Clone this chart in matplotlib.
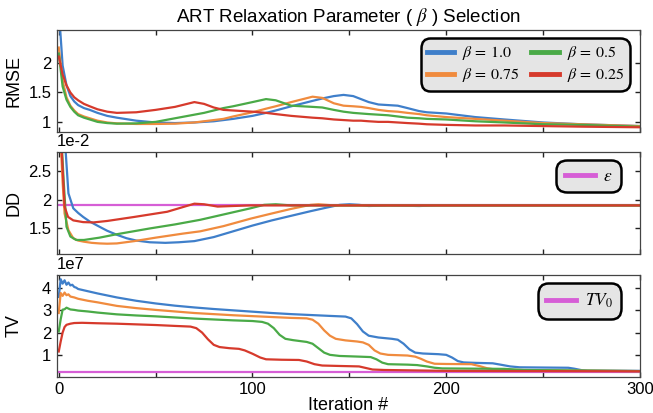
import numpy as np
import matplotlib
matplotlib.use('Agg')
import matplotlib.pyplot as plt
from matplotlib.ticker import FixedLocator, FuncFormatter

plt.rcParams['font.family'] = ['Liberation Sans', 'DejaVu Sans']
plt.rcParams['mathtext.fontset'] = 'stix'

#---------------------------------------- data ----------------------------------------
betas = ['1.0', '0.75', '0.5', '0.25']
colors = ['#3f7fca', '#f08b3e', '#4aaa47', '#d63a2c']
limit_color = '#d65ed6'

# RMSE, shared iteration grid
rmse_iter = [0, 2, 4, 6, 8, 10, 13, 16, 20, 25, 30, 40, 50, 60, 70, 75, 80, 85, 90, 100, 107, 112, 120,
             131, 136, 142, 147, 152, 156, 160, 165, 170, 175, 180, 186, 190, 200, 215, 230, 250, 270, 300]
rmse_b100 = [2.9, 1.95, 1.62, 1.44, 1.35, 1.29, 1.24, 1.21, 1.16, 1.11, 1.08, 1.03, 1.00, 0.99, 1.00, 1.01,
             1.02, 1.04, 1.06, 1.11, 1.16, 1.20, 1.27, 1.36, 1.40, 1.44, 1.46, 1.44, 1.39, 1.34, 1.30, 1.29,
             1.28, 1.24, 1.19, 1.17, 1.15, 1.09, 1.05, 1.00, 0.97, 0.94]
rmse_b075 = [2.25, 1.70, 1.42, 1.28, 1.20, 1.14, 1.10, 1.07, 1.03, 1.00, 0.985, 0.975, 0.975, 0.98, 1.00, 1.02,
             1.04, 1.06, 1.10, 1.17, 1.23, 1.27, 1.34, 1.43, 1.41, 1.32, 1.28, 1.27, 1.26, 1.24, 1.21, 1.19,
             1.18, 1.16, 1.14, 1.12, 1.09, 1.06, 1.03, 0.99, 0.97, 0.94]
rmse_b050 = [2.15, 1.60, 1.38, 1.26, 1.18, 1.12, 1.08, 1.05, 1.01, 0.99, 0.98, 0.985, 1.01, 1.07, 1.13, 1.16,
             1.20, 1.24, 1.27, 1.34, 1.39, 1.37, 1.28, 1.26, 1.25, 1.21, 1.18, 1.16, 1.15, 1.14, 1.13, 1.12,
             1.10, 1.08, 1.07, 1.06, 1.05, 1.02, 1.00, 0.97, 0.96, 0.93]
rmse_b025 = [2.10, 1.80, 1.62, 1.50, 1.42, 1.37, 1.31, 1.27, 1.22, 1.18, 1.16, 1.17, 1.21, 1.26, 1.34, 1.31,
             1.25, 1.21, 1.20, 1.18, 1.16, 1.14, 1.11, 1.08, 1.07, 1.05, 1.04, 1.03, 1.03, 1.02, 1.01, 1.01,
             1.00, 0.99, 0.98, 0.97, 0.96, 0.95, 0.95, 0.94, 0.93, 0.92]

# DD (x 1e-2)
dd_iter_b100 = [0, 2, 3.5, 5, 7.5, 10, 12.6, 16, 21, 25, 30, 35, 40, 47, 55, 62, 70, 80, 90, 100, 110, 120,
                130, 138, 145, 150, 155, 160, 170, 186, 195, 300]
dd_b100 = [4.5, 3.5, 2.87, 2.11, 1.85, 1.77, 1.70, 1.62, 1.53, 1.46, 1.39, 1.33, 1.29, 1.26, 1.25, 1.26, 1.28,
           1.35, 1.45, 1.55, 1.64, 1.72, 1.80, 1.86, 1.91, 1.92, 1.91, 1.89, 1.90, 1.89, 1.90, 1.90]
dd_iter_b075 = [0, 1, 2, 3, 5, 7.5, 10, 13, 17, 21, 25, 30, 39, 50, 64, 73, 85, 99, 110, 120, 130, 134, 142, 300]
dd_b075 = [3.5, 3.0, 2.3, 1.76, 1.47, 1.33, 1.29, 1.27, 1.25, 1.24, 1.235, 1.24, 1.28, 1.34, 1.41, 1.45, 1.54,
           1.67, 1.76, 1.84, 1.91, 1.92, 1.90, 1.90]
dd_iter_b050 = [0, 1.5, 2.5, 4, 6, 9, 13, 21, 30, 47, 60, 73, 86, 99, 106, 112, 120, 300]
dd_b050 = [3.5, 3.0, 2.35, 1.53, 1.36, 1.30, 1.30, 1.34, 1.40, 1.50, 1.57, 1.65, 1.75, 1.85, 1.91, 1.92, 1.90, 1.90]
dd_iter_b025 = [0, 1.5, 3, 4.8, 7.5, 12.6, 18, 25, 39, 56, 65, 70, 75, 82, 90, 99, 300]
dd_b025 = [3.5, 2.87, 1.88, 1.70, 1.64, 1.61, 1.605, 1.63, 1.70, 1.79, 1.88, 1.93, 1.92, 1.88, 1.89, 1.90, 1.90]
epsilon = 1.90

# TV (x 1e7)
tv_iter_b100 = [0, 1, 2, 3, 4, 5, 6, 7, 8, 9, 10, 15, 20, 30, 40, 50, 60, 70, 80, 90, 100, 110, 120, 130, 140,
                148, 151, 154, 157, 160, 165, 172, 175, 178, 181, 184, 188, 196, 200, 203, 206, 209, 215, 224,
                228, 233, 238, 250, 263, 266, 270, 273, 300]
tv_b100 = [3.6, 4.4, 4.2, 4.35, 4.15, 4.25, 4.12, 4.15, 4.05, 4.02, 3.96, 3.86, 3.76, 3.58, 3.43, 3.31, 3.21,
           3.13, 3.06, 3.00, 2.94, 2.88, 2.83, 2.79, 2.75, 2.72, 2.64, 2.38, 2.05, 1.86, 1.78, 1.72, 1.68, 1.50,
           1.25, 1.10, 1.06, 1.03, 1.00, 0.88, 0.72, 0.66, 0.64, 0.62, 0.56, 0.48, 0.44, 0.43, 0.42, 0.38, 0.31,
           0.29, 0.28]
tv_iter_b075 = [0, 1, 2, 3, 4, 5, 6, 8, 10, 15, 20, 30, 40, 50, 60, 70, 80, 90, 100, 110, 120, 128, 131, 134,
                137, 140, 143, 148, 154, 157, 160, 163, 166, 170, 180, 184, 187, 190, 194, 200, 213, 217, 221,
                224, 235, 260, 300]
tv_b075 = [2.88, 3.78, 3.65, 3.80, 3.68, 3.72, 3.62, 3.58, 3.52, 3.43, 3.36, 3.20, 3.10, 3.02, 2.95, 2.88, 2.83,
           2.78, 2.74, 2.70, 2.66, 2.64, 2.58, 2.40, 2.10, 1.86, 1.72, 1.65, 1.60, 1.56, 1.45, 1.20, 1.06, 1.00,
           0.97, 0.92, 0.82, 0.70, 0.60, 0.59, 0.58, 0.50, 0.40, 0.36, 0.32, 0.30, 0.27]
tv_iter_b050 = [0, 1, 2, 3, 4, 5, 6, 8, 10, 15, 20, 30, 40, 50, 60, 70, 80, 90, 100, 105, 108, 111, 114, 117,
                121, 128, 131, 134, 137, 140, 145, 155, 161, 164, 167, 170, 180, 185, 190, 194, 198, 230, 240, 300]
tv_b050 = [2.05, 2.6, 3.03, 3.05, 3.12, 3.08, 3.04, 3.02, 2.99, 2.95, 2.90, 2.82, 2.77, 2.73, 2.68, 2.63, 2.59,
           2.55, 2.52, 2.48, 2.40, 2.20, 1.90, 1.72, 1.66, 1.58, 1.50, 1.30, 1.10, 1.00, 0.95, 0.92, 0.90, 0.80,
           0.65, 0.58, 0.56, 0.54, 0.48, 0.42, 0.39, 0.37, 0.32, 0.27]
tv_iter_b025 = [0, 1, 2, 3, 4, 6, 8, 12, 20, 30, 40, 50, 60, 68, 71, 74, 77, 80, 83, 88, 93, 96, 100, 104, 107,
                115, 124, 128, 132, 136, 145, 155, 158, 162, 168, 200, 300]
tv_b025 = [1.15, 1.6, 2.0, 2.25, 2.35, 2.40, 2.43, 2.44, 2.42, 2.40, 2.37, 2.34, 2.30, 2.27, 2.20, 2.00, 1.70,
           1.45, 1.35, 1.30, 1.27, 1.20, 1.05, 0.88, 0.80, 0.78, 0.77, 0.70, 0.58, 0.52, 0.50, 0.48, 0.42, 0.34,
           0.32, 0.28, 0.26]
tv0 = 0.25

#---------------------------------------- plotting ----------------------------------------
fig, axes = plt.subplots(3, 1, figsize=(6.53, 4.13), dpi=100, sharex=True)
fig.subplots_adjust(left=0.087, right=0.98, top=0.927, bottom=0.088, hspace=0.2)
ax_rmse, ax_dd, ax_tv = axes

rmse_series = [rmse_b100, rmse_b075, rmse_b050, rmse_b025]
dd_series = [(dd_iter_b100, dd_b100), (dd_iter_b075, dd_b075), (dd_iter_b050, dd_b050), (dd_iter_b025, dd_b025)]
tv_series = [(tv_iter_b100, tv_b100), (tv_iter_b075, tv_b075), (tv_iter_b050, tv_b050), (tv_iter_b025, tv_b025)]

lw = 1.6
rmse_lines = []
for vals, c, b in zip(rmse_series, colors, betas):
    ln, = ax_rmse.plot(rmse_iter, vals, color=c, lw=lw, label=r'$\beta\,=\,%s$' % b)
    rmse_lines.append(ln)

eps_line = ax_dd.axhline(epsilon * 1e-2, color=limit_color, lw=lw, label=r'$\epsilon$')
for (it, vals), c in zip(dd_series, colors):
    ax_dd.plot(it, np.array(vals) * 1e-2, color=c, lw=lw)

tv0_line = ax_tv.axhline(tv0 * 1e7, color=limit_color, lw=lw, label=r'$TV_0$')
for (it, vals), c in zip(tv_series, colors):
    ax_tv.plot(it, np.array(vals) * 1e7, color=c, lw=lw)


def style_axis(ax, label, ylim, yticks, scale, offset_text=None):
    ax.set_xlim(-1, 300)
    ax.set_ylim(ylim[0] * scale, ylim[1] * scale)
    ax.yaxis.set_major_locator(FixedLocator([t * scale for t in yticks]))
    ax.yaxis.set_major_formatter(FuncFormatter(lambda v, p: '%g' % round(v / scale, 3)))
    ax.set_xticks(np.arange(0, 301, 50))
    ax.set_xticklabels(['0', '', '100', '', '200', '', '300'])
    ax.tick_params(direction='in', top=True, right=True, length=3.5, width=1,
                   labelsize=12, pad=4, color='#222222')
    for s in ax.spines.values():
        s.set_linewidth(0.9)
        s.set_color('#444444')
    ax.set_ylabel(label, fontsize=13)
    ax.yaxis.set_label_coords(-0.058, 0.5)
    if offset_text:
        ax.text(0, 1.03, offset_text, transform=ax.transAxes, ha='left', va='bottom', fontsize=12)


style_axis(ax_rmse, 'RMSE', (0.84, 2.54), [1, 1.5, 2], 1)
style_axis(ax_dd, 'DD', (1.05, 2.82), [1.5, 2, 2.5], 1e-2, '1e-2')
style_axis(ax_tv, 'TV', (0.02, 4.6), [1, 2, 3, 4], 1e7, '1e7')

ax_rmse.set_title(r'ART Relaxation Parameter ( $\beta$ ) Selection', fontsize=13.5, pad=6)
ax_tv.set_xlabel('Iteration #', fontsize=13, labelpad=0)


def boxed_legend(ax, handles, anchor, ncol=1, fontsize=11.5, borderpad=0.4):
    leg = ax.legend(handles=handles, loc='upper right', bbox_to_anchor=anchor, borderaxespad=0,
                    ncol=ncol, fontsize=fontsize, handlelength=1.7, handletextpad=0.5, columnspacing=0.75,
                    labelspacing=0.25, borderpad=borderpad, frameon=True, fancybox=True, framealpha=1,
                    facecolor='#e5e5e5', edgecolor='black')
    frame = leg.get_frame()
    frame.set_linewidth(1.8)
    frame.set_boxstyle('round', pad=0, rounding_size=0.6)
    for h in leg.legend_handles:
        h.set_linewidth(3.5)
    return leg


boxed_legend(ax_rmse, rmse_lines, (0.983, 0.922), ncol=2)
boxed_legend(ax_dd, [eps_line], (0.968, 0.927), fontsize=12.5, borderpad=0.5)
boxed_legend(ax_tv, [tv0_line], (0.968, 0.918), fontsize=12.5, borderpad=0.5)

fig.savefig('out.png', dpi=100)
